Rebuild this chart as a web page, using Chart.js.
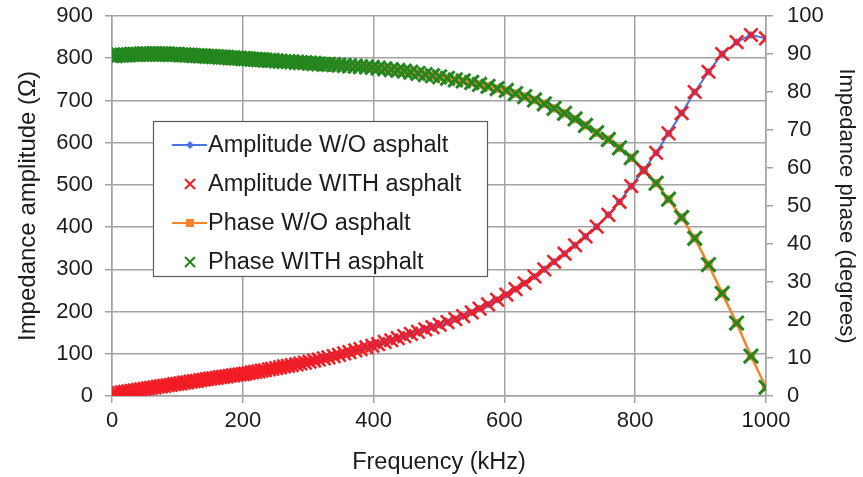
<!DOCTYPE html>
<html>
<head>
<meta charset="utf-8">
<script src="https://cdn.jsdelivr.net/npm/chart.js@4.4.1/dist/chart.umd.min.js"></script>
<style>
  body { margin: 0; background: #fff; }
  canvas { display: block; }
</style>
</head>
<body>
<canvas id="impedance" width="863" height="477"></canvas>
<script>
// sweep points (kHz)
const freqKHz = [
  0, 5, 10, 15, 20, 25, 30, 35, 40, 45, 50, 55, 60, 65, 70, 75, 80, 85, 90, 95,
  100, 105, 110, 115, 120, 125, 130, 135, 140, 145, 150, 155, 160, 165, 170, 175, 180, 185, 190, 195,
  200, 204, 209, 214, 219, 224, 229, 234, 240, 245, 251, 257, 263, 269, 275, 282, 288, 295, 302, 309,
  316, 324, 331, 339, 347, 355, 363, 372, 380, 389, 398, 407, 417, 427, 437, 447, 457, 468, 479, 490,
  501, 513, 525, 537, 550, 562, 575, 589, 603, 617, 631, 646, 661, 676, 692, 708, 724, 741, 759, 776,
  794, 813, 832, 851, 871, 891, 912, 933, 955, 977, 1000
];

// impedance amplitude (ohm)
const ampWithout = [
  5, 6, 7, 8.5, 10, 11, 12, 13.5, 14.5, 16, 17, 18, 19.5, 20.5, 22, 23, 24, 25.5, 26.5, 28,
  29, 30, 31.5, 32.5, 34, 35, 36, 37.5, 38.5, 40, 41, 42, 43, 44.5, 45.5, 46.5, 48, 49, 50, 51,
  52, 53, 54.5, 56, 57, 58.5, 60, 61, 63, 64.5, 66, 68, 70, 71.5, 73, 75, 77, 79, 81.5, 84,
  86.5, 89, 91.5, 94.5, 97.5, 101, 104, 108, 111, 115, 119, 123, 128, 132, 137, 142, 147, 152, 158, 163,
  169, 175, 182, 189, 198, 207, 217, 228, 240, 253, 267, 283, 300, 318, 337, 357, 378, 401, 429, 460,
  497, 535, 576, 622, 670, 720, 768, 810, 838, 855, 847
];
// with / without asphalt sit on top of each other at this scale
const ampWith = ampWithout;

// impedance phase (degrees)
const phaseWithout = [
  89.6, 89.6, 89.7, 89.7, 89.8, 89.8, 89.9, 89.9, 89.9, 90.0, 90.0, 90.0, 90.0, 90.0, 90.0, 90.0, 90.0, 90.0, 89.9, 89.9,
  89.9, 89.8, 89.8, 89.7, 89.7, 89.6, 89.6, 89.5, 89.5, 89.4, 89.4, 89.3, 89.3, 89.2, 89.2, 89.1, 89.0, 89.0, 88.9, 88.9,
  88.8, 88.8, 88.7, 88.6, 88.6, 88.5, 88.5, 88.4, 88.3, 88.3, 88.2, 88.1, 88.0, 88.0, 87.9, 87.8, 87.7, 87.7, 87.6, 87.5,
  87.4, 87.3, 87.3, 87.2, 87.1, 87.0, 86.9, 86.8, 86.7, 86.6, 86.5, 86.3, 86.1, 85.9, 85.7, 85.5, 85.2, 84.9, 84.6, 84.3,
  84.0, 83.6, 83.2, 82.9, 82.5, 82.0, 81.5, 80.9, 80.4, 79.6, 78.8, 77.9, 76.9, 75.7, 74.4, 72.9, 71.2, 69.3, 67.5, 65.3,
  62.7, 59.4, 56.0, 51.8, 47.0, 41.5, 34.6, 27.0, 19.2, 10.5, 2.3
];
const phaseWith = phaseWithout;

const labels = [
  "Amplitude W/O asphalt",
  "Amplitude WITH asphalt",
  "Phase W/O asphalt",
  "Phase WITH asphalt",
];

const FONT = "'Liberation Sans', Arial, Helvetica, sans-serif";
const TEXT = "#1c1c1c";
const GRID = "#a3a3a3";

function pairs(ys) {
  return freqKHz.map((f, i) => ({ x: f, y: ys[i] }));
}

// legend drawn inside the plot, like the original
const legendBox = {
  id: "legendBox",
  afterDatasetsDraw(chart) {
    const ctx = chart.ctx;
    const box = { x: 153, y: 121, w: 334, h: 155 };
    ctx.save();
    ctx.fillStyle = "#fff";
    ctx.fillRect(box.x, box.y, box.w, box.h);
    ctx.strokeStyle = "#5a5a5a";
    ctx.lineWidth = 1.2;
    ctx.strokeRect(box.x + 0.5, box.y + 0.5, box.w, box.h);

    ctx.font = "23.5px " + FONT;
    ctx.textBaseline = "middle";
    ctx.textAlign = "left";

    let order = [1, 0, 3, 2];
    order.forEach((di, row) => {
      const ds = chart.data.datasets[di];
      const y = 145 + row * 39;
      const cx = 190;
      if (ds.showLine) {
        ctx.strokeStyle = ds.borderColor;
        ctx.lineWidth = 2;
        ctx.beginPath();
        ctx.moveTo(172, y);
        ctx.lineTo(207, y);
        ctx.stroke();
        ctx.fillStyle = ds.pointBackgroundColor;
        if (ds.pointStyle === "rectRot") {
          ctx.beginPath();
          ctx.moveTo(cx, y - 4);
          ctx.lineTo(cx + 4, y);
          ctx.lineTo(cx, y + 4);
          ctx.lineTo(cx - 4, y);
          ctx.closePath();
          ctx.fill();
        } else {
          ctx.fillRect(cx - 4, y - 4, 8, 8);
        }
      } else {
        ctx.strokeStyle = ds.pointBorderColor;
        ctx.lineWidth = 2;
        ctx.beginPath();
        ctx.moveTo(cx - 5, y - 5);
        ctx.lineTo(cx + 5, y + 5);
        ctx.moveTo(cx + 5, y - 5);
        ctx.lineTo(cx - 5, y + 5);
        ctx.stroke();
      }
      ctx.fillStyle = TEXT;
      ctx.fillText(ds.label, 208, y + 1);
    });
    ctx.restore();
  },
};

function fixWidth(w) {
  return (scale) => {
    scale.width = w;
    scale.paddingTop = 0;
    scale.paddingBottom = 0;
  };
}

new Chart(document.getElementById("impedance"), {
  type: "scatter",
  data: {
    datasets: [
      {
        label: labels[1],
        data: pairs(ampWith),
        yAxisID: "yAmp",
        showLine: false,
        pointStyle: "crossRot",
        pointRadius: 9.5,
        pointBorderWidth: 2.5,
        pointBorderColor: "#f21c24",
        pointBackgroundColor: "#f21c24",
        order: 0,
      },
      {
        label: labels[0],
        data: pairs(ampWithout),
        yAxisID: "yAmp",
        showLine: true,
        borderColor: "#4b72e6",
        borderWidth: 2,
        pointStyle: "rectRot",
        pointRadius: 4,
        pointBorderWidth: 0,
        pointBackgroundColor: "#4b72e6",
        pointBorderColor: "#4b72e6",
        order: 1,
      },
      {
        label: labels[3],
        data: pairs(phaseWith),
        yAxisID: "yPhase",
        showLine: false,
        pointStyle: "crossRot",
        pointRadius: 10,
        pointBorderWidth: 3,
        pointBorderColor: "#23861f",
        pointBackgroundColor: "#23861f",
        order: 2,
      },
      {
        label: labels[2],
        data: pairs(phaseWithout),
        yAxisID: "yPhase",
        showLine: true,
        borderColor: "#f2852a",
        borderWidth: 2.5,
        pointStyle: "rect",
        pointRadius: 6,
        pointBorderWidth: 0,
        pointBackgroundColor: "#f2852a",
        pointBorderColor: "#f2852a",
        order: 3,
      },
    ],
  },
  options: {
    responsive: false,
    animation: false,
    layout: { padding: { top: 16, left: 0, right: 0, bottom: 0 } },
    plugins: {
      legend: { display: false },
      tooltip: { enabled: false },
    },
    scales: {
      x: {
        type: "linear",
        min: 0,
        max: 1000,
        afterFit: (scale) => {
          scale.height = 81;
          scale.paddingLeft = 0;
          scale.paddingRight = 0;
        },
        border: { color: GRID, width: 1.5 },
        grid: { color: GRID, lineWidth: 1.5, tickLength: 7 },
        ticks: {
          stepSize: 200,
          padding: 5,
          color: TEXT,
          font: { family: FONT, size: 22 },
          maxRotation: 0,
          callback: (v) => String(v),
        },
        title: {
          display: true,
          text: "Frequency (kHz)",
          color: TEXT,
          font: { family: FONT, size: 23.5 },
          padding: { top: 5, bottom: 0 },
        },
      },
      yAmp: {
        type: "linear",
        position: "left",
        min: 0,
        max: 900,
        afterFit: fixWidth(112),
        border: { color: GRID, width: 1.5 },
        grid: { color: GRID, lineWidth: 1.5, tickLength: 7 },
        ticks: {
          stepSize: 100,
          padding: 12,
          color: TEXT,
          font: { family: FONT, size: 22 },
          callback: (v) => String(v),
        },
        title: {
          display: true,
          text: "Impedance amplitude (Ω)",
          color: TEXT,
          font: { family: FONT, size: 24 },
          padding: { top: 14, bottom: 0 },
        },
      },
      yPhase: {
        type: "linear",
        position: "right",
        min: 0,
        max: 100,
        afterFit: fixWidth(97),
        border: { color: GRID, width: 1.5 },
        grid: { drawOnChartArea: false, color: GRID, lineWidth: 1.5, tickLength: 7 },
        ticks: {
          stepSize: 10,
          padding: 14,
          color: TEXT,
          font: { family: FONT, size: 22 },
          callback: (v) => String(v),
        },
        title: {
          display: true,
          text: "Impedance phase (degrees)",
          color: TEXT,
          font: { family: FONT, size: 22 },
          padding: { top: 4, bottom: 0 },
        },
      },
    },
  },
  plugins: [legendBox],
});
</script>
</body>
</html>
